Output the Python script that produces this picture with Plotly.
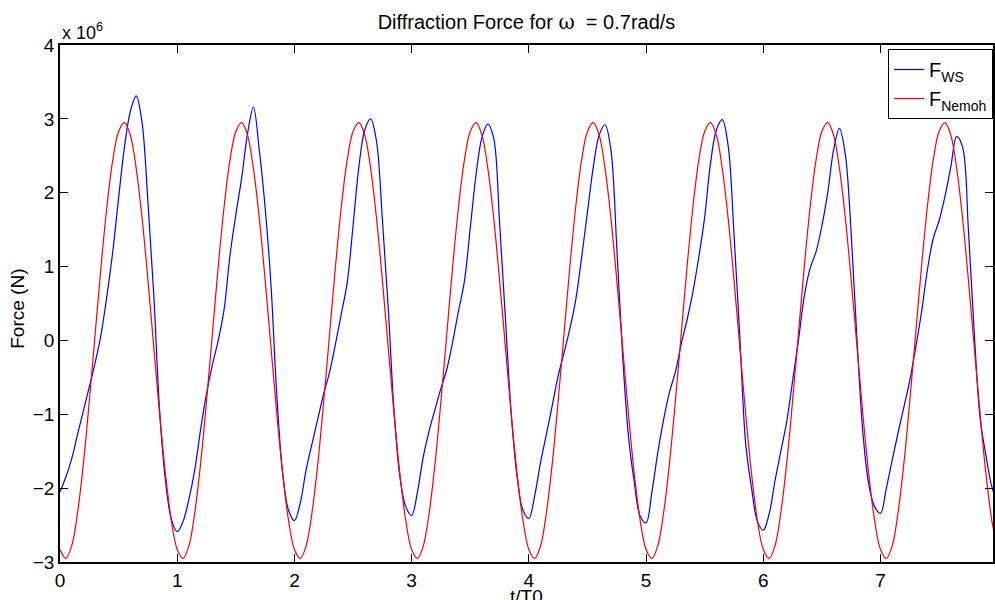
import numpy as np
import plotly.graph_objects as go

# time axis in periods (t/T0), sampled every 0.05
t_step = 0.05
n_samples = 161

# forces, units of 1e6 N, one row per period (20 samples each)
f_ws_rows = [
    [-2.05, -1.85, -1.60, -1.27, -0.95, -0.63, -0.30, 0.08, 0.60, 1.20, 1.93, 2.62, 3.10, 3.31, 2.95, 1.88, 0.62, -0.95, -1.90, -2.42],
    [-2.59, -2.45, -2.15, -1.75, -1.20, -0.72, -0.33, 0.00, 0.42, 1.15, 1.70, 2.20, 2.80, 3.16, 2.58, 1.80, 0.75, -0.75, -1.80, -2.30],
    [-2.44, -2.20, -1.75, -1.40, -1.06, -0.72, -0.43, -0.05, 0.36, 0.78, 1.55, 2.35, 2.85, 3.00, 2.70, 1.65, 0.45, -0.95, -1.85, -2.25],
    [-2.37, -2.05, -1.57, -1.22, -0.93, -0.65, -0.39, -0.02, 0.40, 0.80, 1.52, 2.25, 2.75, 2.93, 2.74, 1.60, 0.30, -1.00, -1.85, -2.30],
    [-2.41, -2.10, -1.65, -1.27, -0.88, -0.48, -0.17, 0.16, 0.55, 1.12, 1.74, 2.35, 2.78, 2.92, 2.58, 1.27, -0.20, -1.30, -1.93, -2.38],
    [-2.47, -2.05, -1.52, -1.07, -0.70, -0.43, -0.05, 0.28, 0.66, 1.13, 1.67, 2.40, 2.85, 2.99, 2.64, 1.45, 0.05, -1.40, -2.00, -2.45],
    [-2.57, -2.35, -1.90, -1.50, -1.10, -0.55, 0.00, 0.60, 0.98, 1.20, 1.55, 2.00, 2.58, 2.87, 2.52, 1.45, 0.00, -1.25, -1.95, -2.25],
    [-2.34, -2.00, -1.62, -1.25, -0.90, -0.54, -0.10, 0.38, 0.95, 1.38, 1.62, 1.95, 2.35, 2.76, 2.62, 1.50, 0.10, -1.05, -1.56, -1.98],
]
f_ws_last = [-2.20]

f_nemoh_rows = [
    [-2.83, -2.95, -2.78, -2.33, -1.66, -0.82, 0.09, 1.00, 1.81, 2.44, 2.83, 2.95, 2.78, 2.33, 1.66, 0.82, -0.09, -1.00, -1.81, -2.44],
    [-2.83, -2.95, -2.78, -2.33, -1.66, -0.82, 0.09, 1.00, 1.81, 2.44, 2.83, 2.95, 2.78, 2.33, 1.66, 0.82, -0.09, -1.00, -1.81, -2.44],
    [-2.83, -2.95, -2.78, -2.33, -1.66, -0.82, 0.09, 1.00, 1.81, 2.44, 2.83, 2.95, 2.78, 2.33, 1.66, 0.82, -0.09, -1.00, -1.81, -2.44],
    [-2.83, -2.95, -2.78, -2.33, -1.66, -0.82, 0.09, 1.00, 1.81, 2.44, 2.83, 2.95, 2.78, 2.33, 1.66, 0.82, -0.09, -1.00, -1.81, -2.44],
    [-2.83, -2.95, -2.78, -2.33, -1.66, -0.82, 0.09, 1.00, 1.81, 2.44, 2.83, 2.95, 2.78, 2.33, 1.66, 0.82, -0.09, -1.00, -1.81, -2.44],
    [-2.83, -2.95, -2.78, -2.33, -1.66, -0.82, 0.09, 1.00, 1.81, 2.44, 2.83, 2.95, 2.78, 2.33, 1.66, 0.82, -0.09, -1.00, -1.81, -2.44],
    [-2.83, -2.95, -2.78, -2.33, -1.66, -0.82, 0.09, 1.00, 1.81, 2.44, 2.83, 2.95, 2.78, 2.33, 1.66, 0.82, -0.09, -1.00, -1.81, -2.44],
    [-2.83, -2.95, -2.78, -2.33, -1.66, -0.82, 0.09, 1.00, 1.81, 2.44, 2.83, 2.95, 2.78, 2.33, 1.66, 0.82, -0.09, -1.00, -1.81, -2.44],
]
f_nemoh_last = [-2.83]

x_tick_vals = [0, 1, 2, 3, 4, 5, 6, 7]
y_tick_vals = [-3, -2, -1, 0, 1, 2, 3, 4]
y_tick_text = ["\u22123", "\u22122", "\u22121", "0", "1", "2", "3", "4"]

scale = 1e6
t = np.arange(n_samples) * t_step
f_ws = np.concatenate([np.ravel(f_ws_rows), f_ws_last]) * scale
f_nemoh = np.concatenate([np.ravel(f_nemoh_rows), f_nemoh_last]) * scale

font_family = "Liberation Sans, Arial, Helvetica, sans-serif"

fig = go.Figure()

fig.add_trace(go.Scatter(
    x=t, y=f_ws,
    mode="lines",
    name="F<sub>WS</sub>",
    line=dict(color="#0000ff", width=1.2, shape="spline", smoothing=1.0),
))

fig.add_trace(go.Scatter(
    x=t, y=f_nemoh,
    mode="lines",
    name="F<sub>Nemoh</sub>",
    line=dict(color="#ff0000", width=1.2, shape="spline", smoothing=1.0),
))

plot_h = 600 - 45 - 38

fig.update_layout(
    width=995,
    height=600,
    margin=dict(l=60, r=0, t=45, b=38),
    plot_bgcolor="white",
    paper_bgcolor="white",
    font=dict(family=font_family, size=19, color="black"),
    title=dict(
        text="Diffraction Force for <span style='font-family:DejaVu Serif, serif'>\u03c9</span>\u00a0 = 0.7rad/s",
        x=0.5, xref="paper", xanchor="center",
        y=1 - 22 / 600, yref="container", yanchor="middle",
        font=dict(size=20, family=font_family, color="black"),
    ),
    xaxis=dict(
        range=[0, 7.96],
        tickvals=x_tick_vals,
        ticks="inside", ticklen=8, tickwidth=1, tickcolor="black",
        showline=True, linecolor="black", linewidth=1.5, mirror="ticks",
        showgrid=False, zeroline=False,
        tickfont=dict(size=19),
    ),
    yaxis=dict(
        range=[-3 * scale, 4 * scale],
        tickvals=[v * scale for v in y_tick_vals],
        ticktext=y_tick_text,
        ticks="inside", ticklen=8, tickwidth=1, tickcolor="black",
        showline=True, linecolor="black", linewidth=1.5, mirror="ticks",
        showgrid=False, zeroline=False,
        tickfont=dict(size=19),
    ),
    legend=dict(
        x=1, xanchor="right",
        y=1 - 4 / plot_h, yanchor="top",
        bgcolor="white",
        bordercolor="black", borderwidth=1,
        font=dict(size=20, family=font_family),
        itemwidth=30,
        tracegroupgap=0,
    ),
    showlegend=True,
    annotations=[
        dict(text="x 10<sup>6</sup>", xref="paper", yref="paper",
             x=0, y=1, xanchor="left", yanchor="bottom",
             showarrow=False, font=dict(size=18)),
        dict(text="t/T0", xref="paper", yref="paper",
             x=0.5, y=-22 / plot_h, xanchor="center", yanchor="top",
             showarrow=False, font=dict(size=19)),
        dict(text="Force (N)", xref="paper", yref="paper",
             x=-42 / 935, y=0.49, xanchor="center", yanchor="middle",
             textangle=-90, showarrow=False, font=dict(size=19)),
    ],
)

# the page body has a default 8px margin; drop it so the figure sits at the window origin
fig.write_html(
    "out.html",
    config={"displayModeBar": False},
    post_script="document.body.style.margin='0';document.body.style.overflow='hidden';",
)
